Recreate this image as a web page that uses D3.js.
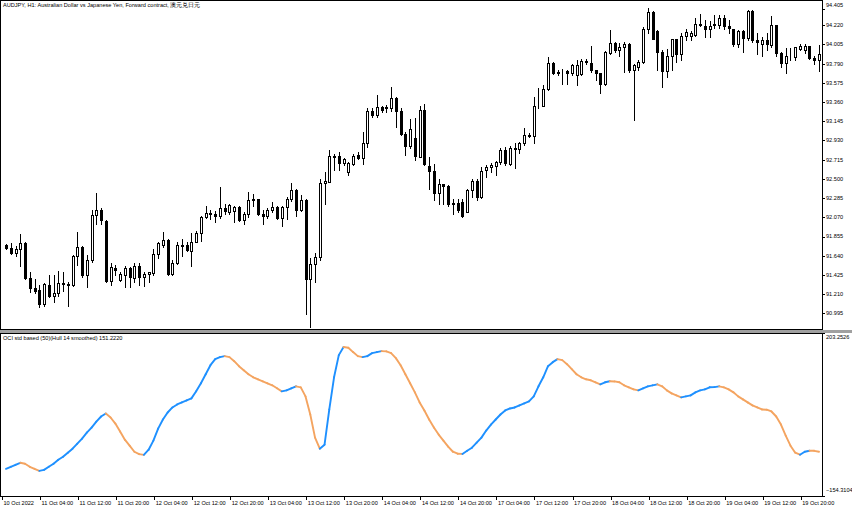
<!DOCTYPE html>
<meta charset="utf-8">
<style type="text/css">
body { margin: 0; background: #fff; }
svg { display: block; background: #fff; font-family: "Liberation Sans", Arial, sans-serif; }
.wick { stroke: #000; stroke-width: 1; }
.body { stroke: #000; stroke-width: 1; }
.frame { stroke: #000; stroke-width: 1; fill: none; }
.lbl { font-size: 5.6px; fill: #000; }
</style>
<svg width="852" height="510"></svg>
<script src="https://d3js.org/d3.v7.min.js"></script>
<script>

// AUDJPY H1, one entry per bar from 10 Oct 20:00 to 19 Oct 23:00
var opens = [91.76,91.73,91.67,91.71,91.78,91.39,91.28,91.26,91.10,91.31,91.19,91.22,91.33,91.32,91.31,91.64,91.74,91.42,91.59,92.10,
  92.15,92.03,91.36,91.50,91.37,91.43,91.50,91.39,91.53,91.40,91.44,91.45,91.66,91.76,91.82,91.44,91.56,91.76,91.76,91.69,
  91.79,91.89,92.07,92.11,92.11,92.09,92.17,92.13,92.14,92.19,92.04,92.11,92.26,92.28,92.11,92.09,92.15,92.19,92.06,92.19,
  92.27,92.37,92.15,92.26,91.38,91.55,91.63,92.45,92.47,92.76,92.76,92.68,92.58,92.67,92.77,92.73,92.90,93.26,93.22,93.30,
  93.29,93.29,93.41,93.26,93.00,92.87,92.96,92.75,93.27,92.64,92.59,92.34,92.44,92.42,92.22,92.23,92.24,92.13,92.38,92.48,
  92.30,92.60,92.63,92.64,92.69,92.82,92.67,92.85,92.83,92.90,92.99,92.98,93.31,93.31,93.50,93.80,93.69,93.71,93.71,93.68,
  93.66,93.67,93.82,93.80,93.72,93.68,93.56,93.91,94.02,93.94,93.98,94.01,93.72,93.75,93.81,94.18,94.37,94.15,93.92,93.71,
  93.87,94.06,93.90,94.10,94.10,94.11,94.23,94.21,94.18,94.22,94.22,94.30,94.21,94.18,94.01,94.15,94.08,94.38,94.05,94.01,
  94.05,94.00,94.22,93.91,93.80,93.86,93.86,93.95,93.94,93.99,93.85,93.83];
var highs = [91.77,91.78,91.75,91.88,91.79,91.46,91.38,91.31,91.34,91.42,91.43,91.47,91.46,91.35,91.65,91.91,91.75,91.65,92.15,92.34,
  92.17,92.04,91.56,91.54,91.46,91.53,91.51,91.56,91.56,91.46,91.46,91.71,91.79,91.91,91.83,91.59,91.79,91.83,91.79,91.89,
  91.92,92.09,92.20,92.15,92.14,92.41,92.22,92.22,92.20,92.20,92.13,92.35,92.33,92.28,92.15,92.17,92.24,92.20,92.20,92.30,
  92.45,92.39,92.32,92.27,91.61,91.67,92.50,92.58,92.82,92.78,92.80,92.73,92.69,92.78,92.80,93.02,93.29,93.29,93.44,93.31,
  93.33,93.53,93.42,93.29,93.03,93.17,93.18,93.32,93.34,92.75,92.67,92.50,92.44,92.43,92.28,92.28,92.28,92.39,92.50,92.50,
  92.63,92.65,92.68,92.70,92.84,92.86,92.87,92.90,92.91,93.07,93.01,93.42,93.52,93.55,93.86,93.81,93.72,93.73,93.72,93.79,
  93.83,93.84,93.84,93.99,93.72,93.69,93.93,94.16,94.03,94.02,94.03,94.02,93.78,93.83,94.20,94.41,94.38,94.16,93.94,93.95,
  94.07,94.06,94.13,94.18,94.15,94.30,94.34,94.28,94.27,94.33,94.33,94.33,94.28,94.18,94.17,94.17,94.39,94.39,94.13,94.09,
  94.13,94.32,94.22,93.92,93.96,93.96,93.98,94.01,94.01,93.99,93.87,94.00];
var lows = [91.72,91.66,91.64,91.53,91.38,91.23,91.22,91.07,91.08,91.18,91.12,91.19,91.25,91.08,91.30,91.54,91.40,91.29,91.57,92.00,
  92.00,91.35,91.31,91.42,91.36,91.29,91.29,91.35,91.31,91.30,91.35,91.43,91.61,91.74,91.43,91.43,91.55,91.64,91.69,91.52,
  91.79,91.80,92.06,92.05,92.02,92.06,92.11,92.11,92.02,92.03,92.00,92.07,92.20,92.10,92.00,92.06,92.13,92.05,91.97,92.05,
  92.25,92.09,92.14,90.99,90.84,91.35,91.59,92.22,92.47,92.60,92.60,92.65,92.54,92.65,92.72,92.67,92.86,93.19,93.19,93.25,
  93.25,93.26,93.08,92.99,92.77,92.85,92.71,92.75,92.65,92.39,92.26,92.22,92.22,92.20,92.11,92.13,92.07,92.13,92.30,92.26,
  92.29,92.52,92.58,92.54,92.67,92.65,92.65,92.62,92.79,92.88,92.97,92.90,93.29,93.31,93.49,93.67,93.66,93.56,93.56,93.66,
  93.55,93.66,93.79,93.70,93.61,93.46,93.55,93.90,93.92,93.87,93.70,93.70,93.16,93.72,93.80,94.13,94.06,93.72,93.53,93.64,
  93.72,93.81,93.83,94.05,94.05,94.10,94.21,94.09,94.09,94.19,94.19,94.18,94.13,93.99,93.98,93.92,94.05,94.03,93.90,93.88,
  93.94,93.98,93.88,93.75,93.69,93.83,93.83,93.94,93.91,93.84,93.79,93.71];
var closes = [91.73,91.67,91.71,91.78,91.39,91.28,91.25,91.10,91.32,91.19,91.22,91.33,91.32,91.31,91.64,91.74,91.42,91.59,92.10,92.15,
  92.04,91.36,91.51,91.48,91.44,91.50,91.40,91.53,91.40,91.44,91.46,91.66,91.78,91.82,91.44,91.56,91.76,91.75,91.70,91.79,
  91.89,92.07,92.12,92.12,92.09,92.17,92.14,92.21,92.19,92.04,92.11,92.26,92.27,92.11,92.09,92.15,92.19,92.06,92.19,92.28,
  92.37,92.15,92.26,91.38,91.55,91.63,92.45,92.48,92.76,92.75,92.68,92.72,92.68,92.76,92.73,92.90,93.26,93.22,93.30,93.27,
  93.30,93.41,93.26,93.00,92.87,93.06,92.76,93.27,92.67,92.59,92.34,92.44,92.42,92.22,92.23,92.15,92.08,92.38,92.48,92.30,
  92.59,92.63,92.66,92.69,92.82,92.68,92.85,92.83,92.90,92.99,92.98,93.31,93.31,93.50,93.80,93.69,93.70,93.71,93.68,93.77,
  93.77,93.82,93.81,93.72,93.68,93.56,93.92,94.02,93.94,93.98,94.01,93.72,93.77,93.81,94.18,94.37,94.07,93.92,93.71,93.87,
  94.06,93.90,94.10,94.14,94.13,94.23,94.22,94.18,94.21,94.23,94.30,94.21,94.19,94.01,94.15,94.08,94.38,94.05,94.03,94.05,
  94.01,94.22,93.91,93.80,93.87,93.86,93.97,93.99,93.99,93.85,93.83,93.90];

// OCI std based (50)(Hull 14 smoothed), one value per bar
var oci = [-94.7,-90.3,-85.9,-81.4,-83.6,-90.3,-94.7,-99.1,-96.9,-90.3,-83.6,-74.8,-68.2,-59.4,-50.5,-39.5,-28.5,-15.2,-4.2,9.0,
  20.1,26.7,17.9,4.6,-13.0,-30.7,-43.9,-57.2,-62.5,-64.0,-52.8,-32.9,-6.4,13.5,28.9,39.9,46.5,51.0,55.4,59.8,
  75.3,92.9,112.8,132.6,145.9,150.3,152.5,150.3,141.5,130.4,121.6,112.8,106.1,101.7,97.3,92.9,88.5,81.9,75.3,77.4,
  81.9,86.3,84.1,64.2,24.5,-26.3,-50.5,-41.7,35.5,106.1,154.7,172.4,171.0,161.4,152.5,150.3,152.5,159.1,161.4,163.5,
  163.0,159.1,148.1,132.6,112.8,92.9,73.1,51.0,33.3,13.5,-4.2,-19.6,-32.9,-46.1,-57.2,-61.6,-62.0,-55.0,-48.4,-37.3,
  -26.3,-10.8,2.4,13.5,24.5,33.3,37.7,39.9,44.4,48.8,53.2,64.2,86.3,106.1,130.4,139.3,145.9,143.7,134.8,123.8,
  112.8,106.1,101.7,99.5,95.1,90.7,95.1,97.3,97.0,95.1,88.5,84.1,79.7,77.4,81.9,86.3,88.5,90.7,86.3,77.4,
  70.8,66.4,62.0,64.2,66.4,73.1,77.4,79.7,84.1,84.5,86.3,84.1,79.7,73.1,64.2,57.6,51.0,44.4,39.9,35.5,
  35.0,31.1,20.1,2.4,-21.9,-43.9,-59.4,-63.8,-57.2,-55.0,-55.2,-57.2];

var priceTicks = [94.405, 94.220, 94.005, 93.790, 93.575, 93.360, 93.145, 92.930, 92.715, 92.500,
  92.285, 92.070, 91.855, 91.640, 91.425, 91.210, 90.995];
var timeBars = [0, 8, 16, 24, 32, 40, 48, 56, 64, 72, 80, 88, 96, 104, 112, 120, 128, 136, 144, 152, 160, 168];
var timeLabels = ["10 Oct 2022", "11 Oct 04:00", "11 Oct 12:00", "11 Oct 20:00", "12 Oct 04:00", "12 Oct 12:00",
  "12 Oct 20:00", "13 Oct 04:00", "13 Oct 12:00", "13 Oct 20:00", "14 Oct 04:00", "14 Oct 12:00", "14 Oct 20:00",
  "17 Oct 04:00", "17 Oct 12:00", "17 Oct 20:00", "18 Oct 04:00", "18 Oct 12:00", "18 Oct 20:00", "19 Oct 04:00",
  "19 Oct 12:00", "19 Oct 20:00"];
var ociTicks = [203.2526, -154.3104];

var svg = d3.select("svg"),
    width = +svg.attr("width"),
    height = +svg.attr("height"),
    axisX = 822,
    priceBottom = 329,
    ociTop = 333,
    ociBottom = 496;

var x = d3.scaleLinear().domain([0, closes.length - 1]).range([6, 819]);
var yP = d3.scaleLinear().domain([90.995, 94.405]).range([313.4, 8.6]);
var yO = d3.scaleLinear().domain([-154.3104, 203.2526]).range([ociBottom, ociTop]);

function px(v) { return Math.round(v) + 0.5; }

svg.append("defs").append("clipPath").attr("id", "pclip")
  .append("rect").attr("x", 0).attr("y", 0).attr("width", width).attr("height", priceBottom);

// price panel: candles
var bars = d3.range(closes.length).map(function(i){
  return {i: i, o: opens[i], h: highs[i], l: lows[i], c: closes[i]};
});

var cg = svg.append("g").attr("clip-path", "url(#pclip)");

cg.selectAll(".wick").data(bars).enter().append("line")
  .attr("class", "wick")
  .attr("x1", function(d){ return px(x(d.i)); })
  .attr("x2", function(d){ return px(x(d.i)); })
  .attr("y1", function(d){ return Math.round(yP(d.h)); })
  .attr("y2", function(d){ return Math.round(yP(d.l)) + 1; });

cg.selectAll(".body").data(bars).enter().append("rect")
  .attr("class", "body")
  .attr("x", function(d){ return px(x(d.i)) - 1; })
  .attr("width", 2)
  .attr("y", function(d){ return px(yP(Math.max(d.o, d.c))); })
  .attr("height", function(d){ return Math.max(0, Math.round(yP(Math.min(d.o, d.c))) - Math.round(yP(Math.max(d.o, d.c)))); })
  .attr("fill", function(d){ return d.c < d.o ? "#000" : "#fff"; });

// price axis
var pa = svg.append("g");
pa.selectAll("line").data(priceTicks).enter().append("line")
  .attr("class", "frame")
  .attr("x1", axisX).attr("x2", axisX + 3)
  .attr("y1", function(d){ return px(yP(d)); })
  .attr("y2", function(d){ return px(yP(d)); });
pa.selectAll("text").data(priceTicks).enter().append("text")
  .attr("class", "lbl")
  .attr("x", axisX + 4)
  .attr("y", function(d, i){ return i === 0 ? 5 : yP(d); })
  .attr("dy", "0.35em")
  .text(function(d){ return d3.format(".3f")(d); });

svg.append("text").attr("class", "lbl")
  .attr("x", 3).attr("y", 7)
  .text("AUDJPY, H1:  Australian Dollar vs Japanese Yen, Forward contract, 澳元兑日元");

// oscillator panel: blue while rising, orange while falling
var seg = d3.range(1, oci.length).map(function(i){
  return {a: i - 1, b: i, up: oci[i] >= oci[i - 1]};
});
var line = d3.line()
  .x(function(i){ return x(i); })
  .y(function(i){ return yO(oci[i]); });

svg.append("g").selectAll("path").data(seg).enter().append("path")
  .attr("d", function(s){ return line([s.a, s.b]); })
  .attr("fill", "none")
  .attr("stroke-width", 1.9)
  .attr("stroke-linecap", "round")
  .attr("stroke", function(s){ return s.up ? "#1e90ff" : "#f4a460"; });

svg.append("text").attr("class", "lbl")
  .attr("x", 3).attr("y", 340)
  .text("OCI std based (50)(Hull 14 smoothed) 151.2220");

svg.selectAll(".otick").data(ociTicks).enter().append("line")
  .attr("class", "frame otick")
  .attr("x1", axisX).attr("x2", axisX + 3)
  .attr("y1", function(d){ return px(yO(d)); })
  .attr("y2", function(d){ return px(yO(d)); });
svg.selectAll(".olbl").data(ociTicks).enter().append("text")
  .attr("class", "lbl olbl")
  .attr("x", axisX + 4)
  .attr("y", function(d, i){ return i === 0 ? yO(d) + 4 : yO(d) - 6; })
  .attr("dy", "0.35em")
  .text(function(d){ return d3.format(".4f")(d); });

// frames and separator
svg.append("rect").attr("class", "frame").attr("x", 0.5).attr("y", 0.5)
  .attr("width", axisX).attr("height", priceBottom);
svg.append("rect").attr("x", 0).attr("y", priceBottom + 1).attr("width", width).attr("height", ociTop - priceBottom - 1)
  .attr("fill", "#a0a0a0");
svg.append("rect").attr("class", "frame").attr("x", 0.5).attr("y", ociTop + 0.5)
  .attr("width", axisX).attr("height", ociBottom - ociTop);

// time axis
var ta = svg.append("g");
ta.selectAll("line").data(timeBars).enter().append("line")
  .attr("class", "frame")
  .attr("x1", function(d){ return px(x(d)) - 4; })
  .attr("x2", function(d){ return px(x(d)) - 4; })
  .attr("y1", ociBottom).attr("y2", ociBottom + 4);
ta.selectAll("text").data(timeBars).enter().append("text")
  .attr("class", "lbl")
  .attr("x", function(d){ return x(d) - 2.5; })
  .attr("y", 505)
  .text(function(d, i){ return timeLabels[i]; });

</script>
